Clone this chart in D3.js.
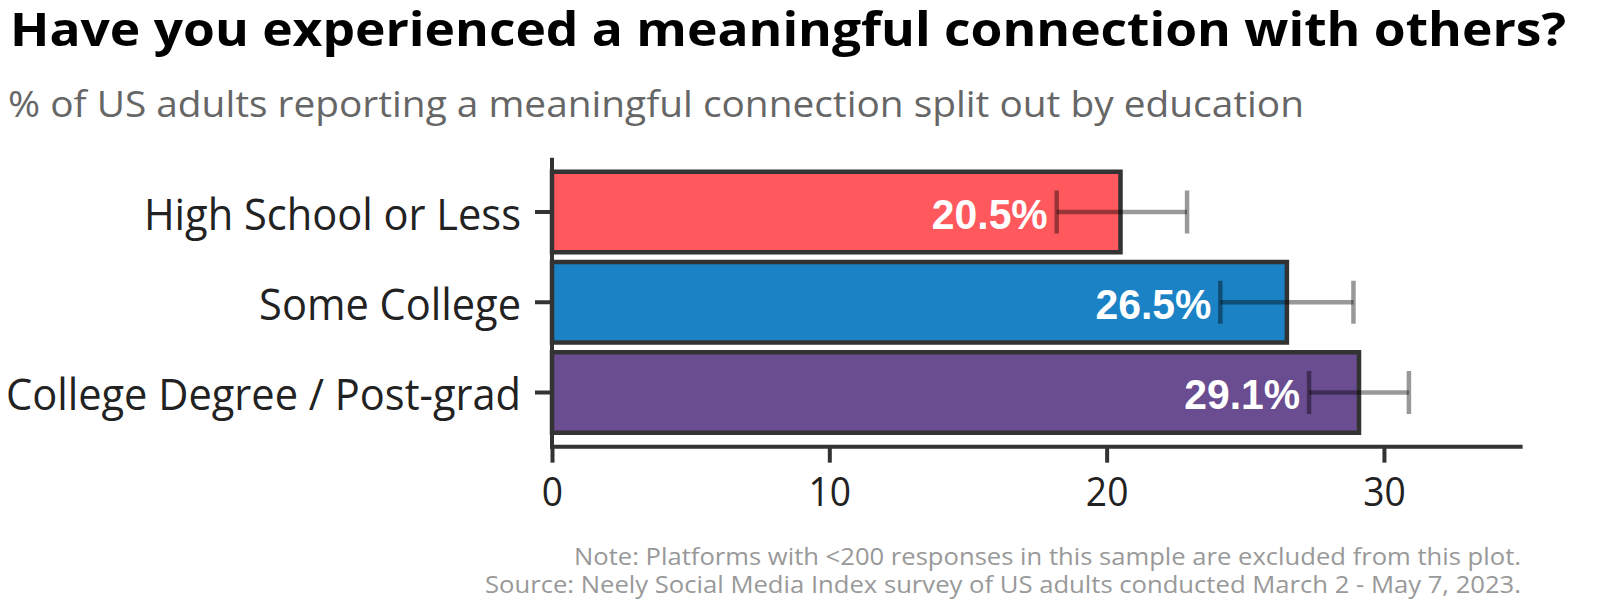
<!DOCTYPE html>
<html>
<head>
<meta charset="utf-8">
<script src="https://cdn.jsdelivr.net/npm/d3@7"></script>
<style>
  html, body { margin: 0; padding: 0; background: #fff; }
  svg { display: block; }
</style>
</head>
<body>
<svg id="chart" width="1600" height="609"></svg>
<script>
// ---- data ----
const categories = ["High School or Less", "Some College", "College Degree / Post-grad"];
const values = [20.5, 26.5, 29.1];
const lowerCI = [18.2, 24.1, 27.3];
const upperCI = [22.9, 28.9, 30.9];
const barColors = ["#FF585D", "#1A82C5", "#6A4C90"];
const xTicks = [0, 10, 20, 30];
const xDomain = [0, 35];
const titleText = "Have you experienced a meaningful connection with others?";
const subtitleText = "% of US adults reporting a meaningful connection split out by education";
const noteLines = [
  "Note: Platforms with <200 responses in this sample are excluded from this plot.",
  "Source: Neely Social Media Index survey of US adults conducted March 2 - May 7, 2023."
];

const svg = d3.select("#chart");

function squeeze(sel, f) {
  sel.each(function() {
    const w = this.getComputedTextLength();
    d3.select(this).attr("textLength", w * f).attr("lengthAdjust", "spacingAndGlyphs");
  });
}
function fitTo(sel, target) {
  sel.attr("textLength", target).attr("lengthAdjust", "spacingAndGlyphs");
}

// ---- scales ----
const x = d3.scaleLinear().domain(xDomain).range([552, 1522.6]);
const y = d3.scaleBand().domain(categories).range([157.85, 446.65])
  .paddingInner(0.108).paddingOuter(0.154);

const data = categories.map((c, i) => ({
  cat: c, v: values[i], lo: lowerCI[i], hi: upperCI[i], col: barColors[i]
}));

// ---- title / subtitle ----
const title = svg.append("text")
  .attr("x", 10).attr("y", 46)
  .style("font-family", "'Open Sans', sans-serif")
  .style("font-weight", 700).style("font-size", "47px")
  .attr("fill", "#000").text(titleText);
fitTo(title, 1556);

const sub = svg.append("text")
  .attr("x", 8).attr("y", 117)
  .style("font-family", "'Open Sans', sans-serif")
  .style("font-size", "37px")
  .attr("fill", "#666").text(subtitleText);
fitTo(sub, 1296);

// ---- bars ----
svg.append("g").selectAll("rect").data(data).join("rect")
  .attr("x", x(0))
  .attr("y", d => y(d.cat))
  .attr("width", d => x(d.v) - x(0))
  .attr("height", y.bandwidth())
  .attr("fill", d => d.col)
  .attr("stroke", "#333")
  .attr("stroke-width", 4.5);

// ---- value labels ----
const vl = svg.append("g").selectAll("text").data(data).join("text")
  .attr("x", d => x(d.lo) - 9)
  .attr("y", d => y(d.cat) + y.bandwidth() / 2 + 16.5)
  .attr("text-anchor", "end")
  .style("font-family", "'Liberation Sans', Arial, sans-serif")
  .style("font-weight", 700).style("font-size", "43px")
  .attr("fill", "#fff")
  .text(d => d.v.toFixed(1) + "%");
squeeze(vl, 0.95);

// ---- error bars ----
const eb = svg.append("g").attr("stroke", "#000").attr("stroke-opacity", 0.4)
  .attr("stroke-width", 4.5);
data.forEach(d => {
  const cy = y(d.cat) + y.bandwidth() / 2;
  const g = eb.append("g");
  g.append("line").attr("x1", x(d.lo)).attr("x2", x(d.hi)).attr("y1", cy).attr("y2", cy);
  g.append("line").attr("x1", x(d.lo)).attr("x2", x(d.lo)).attr("y1", cy - 21.5).attr("y2", cy + 21.5);
  g.append("line").attr("x1", x(d.hi)).attr("x2", x(d.hi)).attr("y1", cy - 21.5).attr("y2", cy + 21.5);
});

// ---- axes ----
const xAxis = svg.append("g").attr("transform", "translate(0,446.65)")
  .call(d3.axisBottom(x).tickValues(xTicks).tickSize(16).tickPadding(15).tickSizeOuter(0));
xAxis.select(".domain").attr("stroke", "#333").attr("stroke-width", 4)
  .attr("d", `M${x(0) - 2},0H${x(xDomain[1])}`);
xAxis.selectAll(".tick line").attr("stroke", "#333").attr("stroke-width", 4);
xAxis.selectAll(".tick text")
  .style("font-family", "'Open Sans', sans-serif").style("font-size", "40px")
  .attr("fill", "#222");
squeeze(xAxis.selectAll(".tick text"), 0.93);

const yAxis = svg.append("g").attr("transform", `translate(${x(0)},0)`)
  .call(d3.axisLeft(y).tickSize(17).tickPadding(14).tickSizeOuter(0));
yAxis.select(".domain").attr("stroke", "#333").attr("stroke-width", 4)
  .attr("d", `M0,${y.range()[0]}V${y.range()[1] + 2}`);
yAxis.selectAll(".tick line").attr("stroke", "#333").attr("stroke-width", 4);
const ylabels = yAxis.selectAll(".tick text")
  .style("font-family", "'Open Sans', sans-serif").style("font-size", "44px")
  .attr("fill", "#222").attr("dy", "0.4em");
squeeze(ylabels, 0.945);

// ---- footnote ----
const noteWidths = [947, 1036];
const fn = svg.append("g").selectAll("text").data(noteLines).join("text")
  .attr("x", 1521).attr("y", (d, i) => 565 + i * 28)
  .attr("text-anchor", "end")
  .style("font-family", "'Open Sans', sans-serif").style("font-size", "24px")
  .attr("fill", "#999").text(d => d)
  .attr("textLength", (d, i) => noteWidths[i]).attr("lengthAdjust", "spacingAndGlyphs");
</script>
</body>
</html>
